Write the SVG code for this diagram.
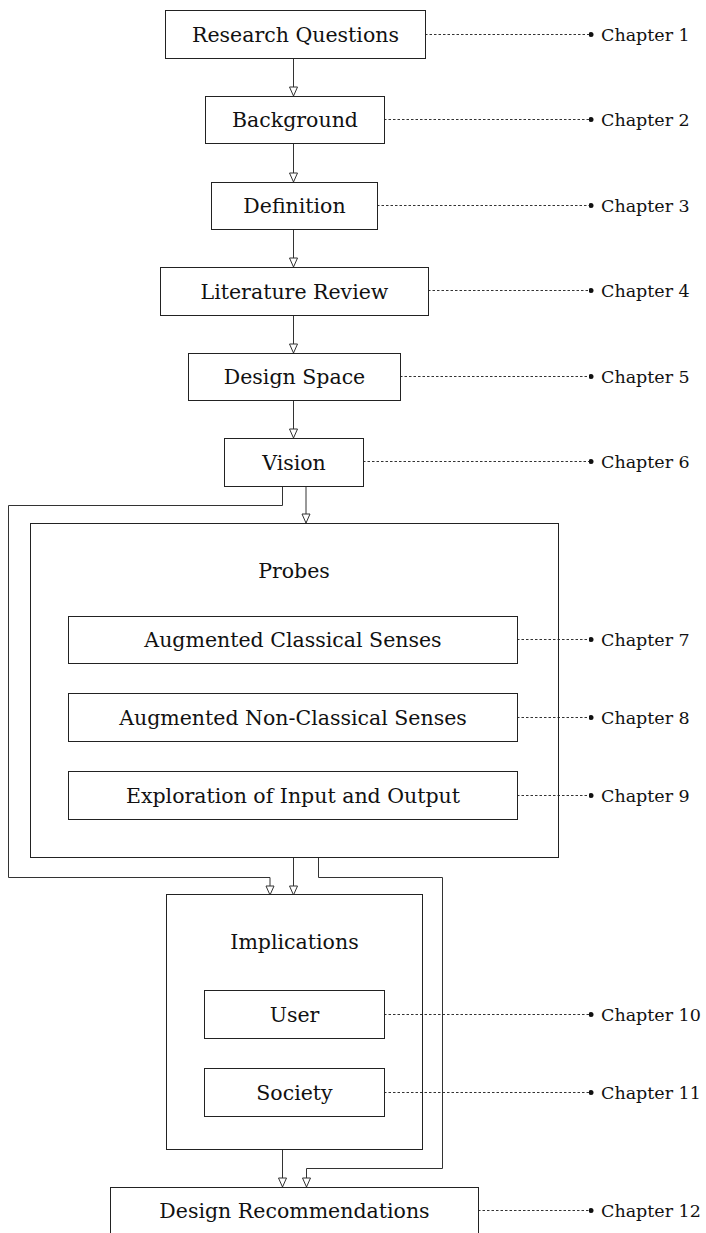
<svg xmlns="http://www.w3.org/2000/svg" width="706" height="1233" viewBox="0 0 706 1233">
<style>
.box{fill:#fff;stroke:#222;stroke-width:1}
.frame{fill:none;stroke:#222;stroke-width:1}
.t{font-family:"DejaVu Serif","Liberation Serif",serif;font-size:20.5px;fill:#111;text-anchor:middle}
.ch{font-family:"DejaVu Serif","Liberation Serif",serif;font-size:17.5px;fill:#111}
.con{fill:none;stroke:#333;stroke-width:1}
.dot{fill:none;stroke:#333;stroke-width:1;stroke-dasharray:2.5,2}
</style>
<defs>
<marker id="arr" viewBox="0 0 10 10" refX="10" refY="5" markerWidth="10" markerHeight="10" markerUnits="userSpaceOnUse" orient="auto">
<path d="M1,1 L10,5 L1,9 Z" fill="#fff" stroke="#333" stroke-width="1"/>
</marker>
<marker id="pt" viewBox="0 0 6 6" refX="3" refY="3" markerWidth="5" markerHeight="5" markerUnits="userSpaceOnUse">
<circle cx="3" cy="3" r="3" fill="#111"/>
</marker>
</defs>

<g id="connectors">
<line class="con" x1="293.5" y1="58" x2="293.5" y2="96" marker-end="url(#arr)"/>
<line class="con" x1="293.5" y1="143" x2="293.5" y2="182" marker-end="url(#arr)"/>
<line class="con" x1="293.5" y1="229" x2="293.5" y2="267" marker-end="url(#arr)"/>
<line class="con" x1="293.5" y1="315" x2="293.5" y2="353" marker-end="url(#arr)"/>
<line class="con" x1="293.5" y1="400" x2="293.5" y2="438" marker-end="url(#arr)"/>
<line class="con" x1="306" y1="486" x2="306" y2="523" marker-end="url(#arr)"/>
<polyline class="con" points="282.5,486 282.5,505.5 8.5,505.5 8.5,877.5 270,877.5 270,895" marker-end="url(#arr)"/>
<line class="con" x1="293.5" y1="857" x2="293.5" y2="895" marker-end="url(#arr)"/>
<polyline class="con" points="318.5,857 318.5,877.5 442.5,877.5 442.5,1168.5 306.5,1168.5 306.5,1187" marker-end="url(#arr)"/>
<line class="con" x1="282.5" y1="1150" x2="282.5" y2="1187" marker-end="url(#arr)"/>

<line class="dot" x1="425" y1="34.5" x2="591" y2="34.5" marker-end="url(#pt)"/>
<line class="dot" x1="384" y1="119.5" x2="591" y2="119.5" marker-end="url(#pt)"/>
<line class="dot" x1="377" y1="205.5" x2="591" y2="205.5" marker-end="url(#pt)"/>
<line class="dot" x1="428" y1="290.5" x2="591" y2="290.5" marker-end="url(#pt)"/>
<line class="dot" x1="400" y1="376.5" x2="591" y2="376.5" marker-end="url(#pt)"/>
<line class="dot" x1="363" y1="461.5" x2="591" y2="461.5" marker-end="url(#pt)"/>
<line class="dot" x1="517" y1="639.5" x2="591" y2="639.5" marker-end="url(#pt)"/>
<line class="dot" x1="517" y1="717.5" x2="591" y2="717.5" marker-end="url(#pt)"/>
<line class="dot" x1="517" y1="795.5" x2="591" y2="795.5" marker-end="url(#pt)"/>
<line class="dot" x1="384" y1="1014.5" x2="591" y2="1014.5" marker-end="url(#pt)"/>
<line class="dot" x1="384" y1="1092.5" x2="591" y2="1092.5" marker-end="url(#pt)"/>
<line class="dot" x1="478" y1="1210.5" x2="591" y2="1210.5" marker-end="url(#pt)"/>
</g>

<g id="n-research-questions">
<rect class="box" x="165.5" y="10.5" width="260" height="48"/>
<text class="t" x="295.5" y="42">Research Questions</text>
<text class="ch" x="601" y="40.5">Chapter 1</text>
</g>
<g id="n-background">
<rect class="box" x="205.5" y="96.5" width="179" height="47"/>
<text class="t" x="295" y="127">Background</text>
<text class="ch" x="601" y="125.5">Chapter 2</text>
</g>
<g id="n-definition">
<rect class="box" x="211.5" y="182.5" width="166" height="47"/>
<text class="t" x="294.5" y="213">Definition</text>
<text class="ch" x="601" y="211.5">Chapter 3</text>
</g>
<g id="n-literature-review">
<rect class="box" x="160.5" y="267.5" width="268" height="48"/>
<text class="t" x="294.5" y="299">Literature Review</text>
<text class="ch" x="601" y="296.5">Chapter 4</text>
</g>
<g id="n-design-space">
<rect class="box" x="188.5" y="353.5" width="212" height="47"/>
<text class="t" x="294.5" y="384">Design Space</text>
<text class="ch" x="601" y="382.5">Chapter 5</text>
</g>
<g id="n-vision">
<rect class="box" x="224.5" y="438.5" width="139" height="48"/>
<text class="t" x="294" y="470">Vision</text>
<text class="ch" x="601" y="467.5">Chapter 6</text>
</g>
<g id="n-probes">
<rect class="frame" x="30.5" y="523.5" width="528" height="334"/>
<text class="t" x="294" y="578">Probes</text>
</g>
<g id="n-augmented-classical">
<rect class="box" x="68.5" y="616.5" width="449" height="47"/>
<text class="t" x="293" y="647">Augmented Classical Senses</text>
<text class="ch" x="601" y="645.5">Chapter 7</text>
</g>
<g id="n-augmented-nonclassical">
<rect class="box" x="68.5" y="693.5" width="449" height="48"/>
<text class="t" x="293" y="725">Augmented Non-Classical Senses</text>
<text class="ch" x="601" y="723.5">Chapter 8</text>
</g>
<g id="n-exploration">
<rect class="box" x="68.5" y="771.5" width="449" height="48"/>
<text class="t" x="293" y="803">Exploration of Input and Output</text>
<text class="ch" x="601" y="801.5">Chapter 9</text>
</g>
<g id="n-implications">
<rect class="frame" x="166.5" y="894.5" width="256" height="255"/>
<text class="t" x="294.5" y="949">Implications</text>
</g>
<g id="n-user">
<rect class="box" x="204.5" y="990.5" width="180" height="48"/>
<text class="t" x="294.5" y="1022">User</text>
<text class="ch" x="601" y="1020.5">Chapter 10</text>
</g>
<g id="n-society">
<rect class="box" x="204.5" y="1068.5" width="180" height="48"/>
<text class="t" x="294.5" y="1100">Society</text>
<text class="ch" x="601" y="1098.5">Chapter 11</text>
</g>
<g id="n-design-recommendations">
<rect class="box" x="110.5" y="1187.5" width="368" height="60"/>
<text class="t" x="294.5" y="1218">Design Recommendations</text>
<text class="ch" x="601" y="1216.5">Chapter 12</text>
</g>
</svg>
